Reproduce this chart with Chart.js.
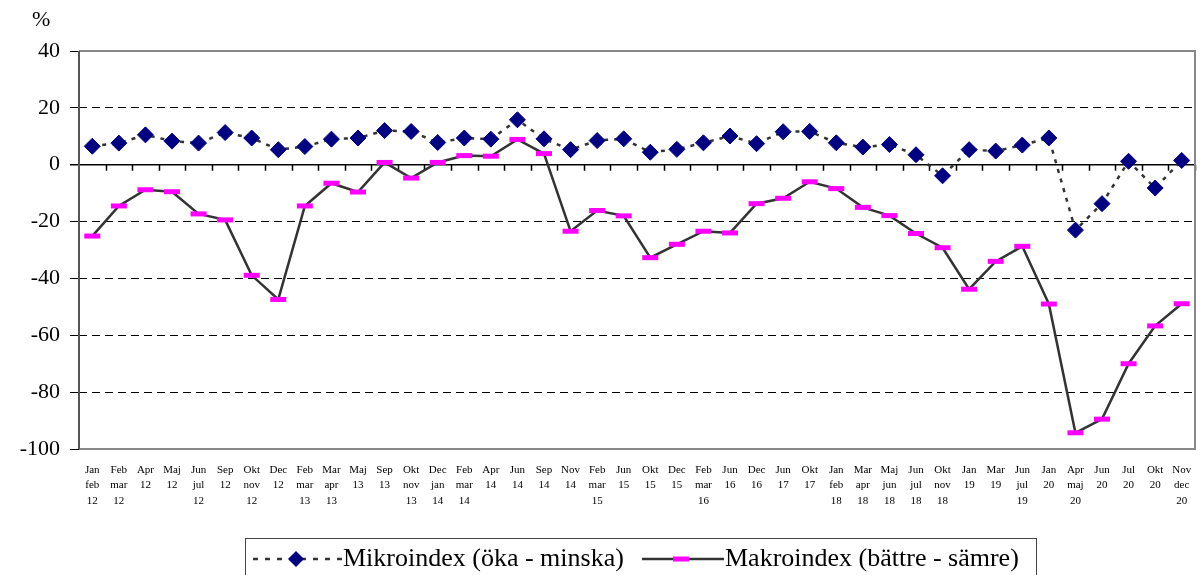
<!DOCTYPE html>
<html>
<head>
<meta charset="utf-8">
<script src="https://cdn.jsdelivr.net/npm/chart.js@4/dist/chart.umd.min.js"></script>
<style>
  body { margin: 0; background: #fff; }
  #wrap { position: relative; width: 1202px; height: 575px; overflow: hidden; }
  #pct { position: absolute; left: 32px; top: 6px; font: 22px "Liberation Serif", serif; color: #000; }
  #legend {
    position: absolute; left: 245px; top: 538px; width: 792px; height: 44px;
    border: 1px solid #444; box-sizing: border-box;
    font: 26px "Liberation Serif", serif; color: #000;
  }
  #legend span { position: absolute; top: 4px; white-space: nowrap; }
  #legend svg { position: absolute; top: 10px; }
</style>
</head>
<body>
<div id="wrap">
  <canvas id="chart" width="1202" height="575"></canvas>
  <div id="pct">%</div>
  <div id="legend">
    <svg style="left:6px" width="92" height="20">
      <line x1="1" y1="10" x2="90" y2="10" stroke="#333" stroke-width="2.5" stroke-dasharray="5,7"/>
      <polygon points="44,2 52,10 44,18 36,10" fill="#000080"/>
    </svg>
    <span style="left:97px">Mikroindex (öka - minska)</span>
    <svg style="left:396px" width="82" height="20">
      <line x1="0" y1="10" x2="82" y2="10" stroke="#333" stroke-width="2.5"/>
      <rect x="31" y="7.5" width="16" height="5" fill="#ff00ff"/>
    </svg>
    <span style="left:479px">Makroindex (bättre - sämre)</span>
  </div>
</div>
<script>
// kategorier (x-axel), flerradiga etiketter
const perioder = [
  ['Jan', 'feb', '12'], ['Feb', 'mar', '12'], ['Apr', '12'], ['Maj', '12'], ['Jun', 'jul', '12'],
  ['Sep', '12'], ['Okt', 'nov', '12'], ['Dec', '12'], ['Feb', 'mar', '13'], ['Mar', 'apr', '13'],
  ['Maj', '13'], ['Sep', '13'], ['Okt', 'nov', '13'], ['Dec', 'jan', '14'], ['Feb', 'mar', '14'],
  ['Apr', '14'], ['Jun', '14'], ['Sep', '14'], ['Nov', '14'], ['Feb', 'mar', '15'],
  ['Jun', '15'], ['Okt', '15'], ['Dec', '15'], ['Feb', 'mar', '16'], ['Jun', '16'],
  ['Dec', '16'], ['Jun', '17'], ['Okt', '17'], ['Jan', 'feb', '18'], ['Mar', 'apr', '18'],
  ['Maj', 'jun', '18'], ['Jun', 'jul', '18'], ['Okt', 'nov', '18'], ['Jan', '19'], ['Mar', '19'],
  ['Jun', 'jul', '19'], ['Jan', '20'], ['Apr', 'maj', '20'], ['Jun', '20'], ['Jul', '20'],
  ['Okt', '20'], ['Nov', 'dec', '20']
];

const mikroindex = [
  6.5, 7.6, 10.5, 8.3, 7.6, 11.3, 9.4, 5.3, 6.4, 9.0,
  9.4, 12.0, 11.7, 7.8, 9.4, 9.0, 15.8, 9.1, 5.3, 8.5,
  9.1, 4.4, 5.4, 7.7, 10.1, 7.4, 11.6, 11.7, 7.7, 6.2,
  7.1, 3.5, -3.9, 5.3, 4.8, 6.9, 9.4, -23.0, -13.7, 1.2,
  -8.2, 1.5
];

const makroindex = [
  -25.1, -14.5, -8.8, -9.5, -17.3, -19.4, -38.9, -47.4, -14.5, -6.5,
  -9.6, 0.8, -4.7, 0.8, 3.2, 3.0, 8.9, 3.9, -23.4, -16.1,
  -18.0, -32.7, -28.0, -23.4, -24.0, -13.7, -11.8, -6.0, -8.4, -15.0,
  -17.9, -24.2, -29.2, -43.8, -34.0, -28.7, -49.0, -94.3, -89.5, -70.0,
  -56.7, -48.9
];

const yMin = -100;
const yMax = 40;
const yStep = 20;

// ram, nollinje och små streck på x-axeln
const ramPlugin = {
  id: 'ram',
  beforeDatasetsDraw(chart) {
    const { ctx, chartArea: a, scales } = chart;
    const y0 = scales.y.getPixelForValue(0);
    ctx.save();
    ctx.strokeStyle = '#000';
    ctx.lineWidth = 1.5;
    ctx.beginPath();
    ctx.moveTo(a.left - 9, y0);
    ctx.lineTo(a.right, y0);
    const n = perioder.length;
    const w = (a.right - a.left) / n;
    for (let i = 1; i <= n; i++) {
      const x = Math.round(a.left + i * w) + 0.5;
      ctx.moveTo(x, y0);
      ctx.lineTo(x, y0 + 6);
    }
    ctx.stroke();

    ctx.strokeStyle = '#888';
    ctx.lineWidth = 2;
    ctx.beginPath();
    ctx.moveTo(a.left, a.top);
    ctx.lineTo(a.right, a.top);
    ctx.lineTo(a.right, a.bottom);
    ctx.lineTo(a.left, a.bottom);
    ctx.stroke();

    ctx.strokeStyle = '#555';
    ctx.beginPath();
    ctx.moveTo(a.left, a.top);
    ctx.lineTo(a.left, a.bottom);
    ctx.stroke();
    ctx.restore();
  }
};

new Chart(document.getElementById('chart'), {
  type: 'line',
  data: {
    labels: perioder,
    datasets: [
      {
        label: 'Mikroindex (öka - minska)',
        data: mikroindex,
        borderColor: '#333',
        borderWidth: 2.5,
        borderDash: [4, 6],
        pointStyle: 'rectRot',
        pointRadius: 8,
        pointBackgroundColor: '#000080',
        pointBorderColor: '#000080',
        pointBorderWidth: 1,
        tension: 0
      },
      {
        label: 'Makroindex (bättre - sämre)',
        data: makroindex,
        borderColor: '#333',
        borderWidth: 2.5,
        pointStyle: 'line',
        pointRadius: 8,
        pointBorderColor: '#ff00ff',
        pointBorderWidth: 5,
        tension: 0
      }
    ]
  },
  options: {
    responsive: false,
    animation: false,
    layout: { autoPadding: false, padding: { top: 51, right: 7, left: 0, bottom: 0 } },
    plugins: {
      legend: { display: false },
      tooltip: { enabled: false }
    },
    scales: {
      x: {
        offset: true,
        grid: { display: false, drawTicks: false },
        border: { display: false },
        ticks: {
          autoSkip: false,
          maxRotation: 0,
          padding: 13,
          color: '#000',
          font: { family: 'Liberation Serif', size: 11, lineHeight: 1.43 }
        },
        afterFit(scale) {
          scale.height = 126;
          scale.paddingLeft = 0;
          scale.paddingRight = 0;
        }
      },
      y: {
        min: yMin,
        max: yMax,
        border: { display: false, dash: [8, 5] },
        grid: {
          color: ctx => (ctx.tick && [0, yMax, yMin].includes(ctx.tick.value)) ? 'rgba(0,0,0,0)' : '#000',
          tickColor: '#000',
          tickLength: 9,
          tickBorderDash: [],
          lineWidth: 1
        },
        ticks: {
          stepSize: yStep,
          padding: 10,
          color: '#000',
          font: { family: 'Liberation Serif', size: 22 }
        },
        afterFit(scale) { scale.width = 79; }
      }
    }
  },
  plugins: [ramPlugin]
});
</script>
</body>
</html>
